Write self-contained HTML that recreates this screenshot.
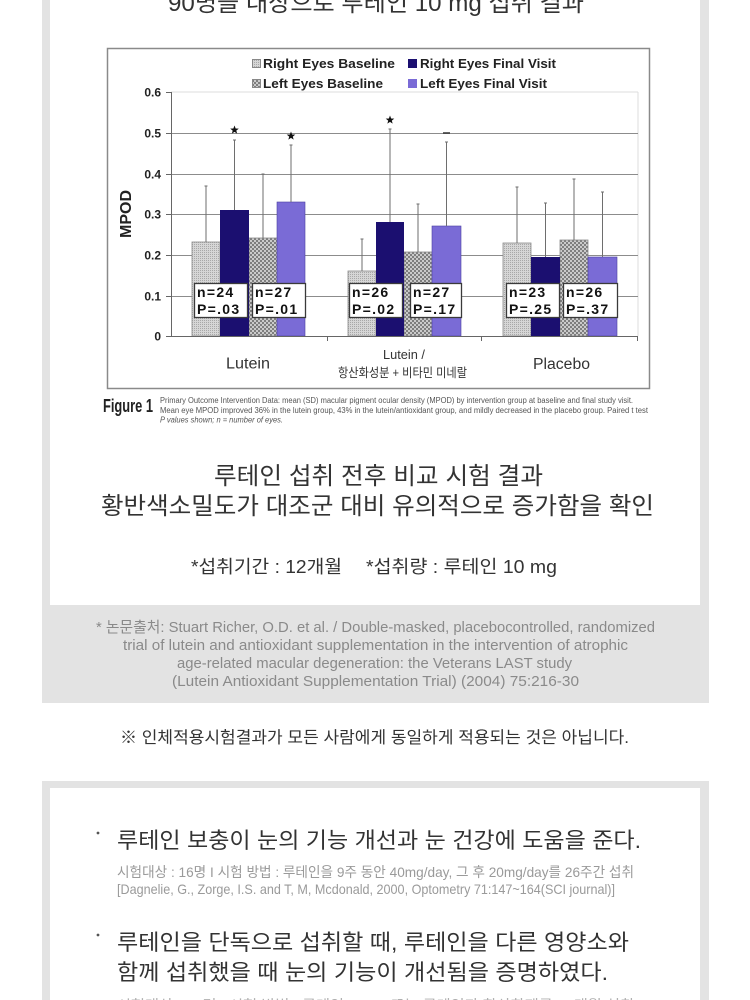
<!DOCTYPE html>
<html><head><meta charset="utf-8"><style>
html,body{margin:0;padding:0;background:#fff;}
svg{display:block;}
.k{font-family:"Liberation Sans","Noto Sans CJK KR",sans-serif;}
</style></head><body>
<svg width="750" height="1000" viewBox="0 0 750 1000" xmlns="http://www.w3.org/2000/svg" class="k">
<defs>
<pattern id="p1" width="2" height="2" patternUnits="userSpaceOnUse"><rect width="2" height="2" fill="#d6d6d6"/><rect width="1" height="1" fill="#a8a8a8"/></pattern>
<pattern id="p2" width="4" height="4" patternUnits="userSpaceOnUse"><rect width="4" height="4" fill="#cacaca"/><rect width="2" height="2" fill="#7e7e7e"/><rect x="2" y="2" width="2" height="2" fill="#7e7e7e"/></pattern>
<polygon id="star" points="0,-4.5 1.12,-1.54 4.28,-1.39 1.81,0.59 2.65,3.64 0,1.9 -2.65,3.64 -1.81,0.59 -4.28,-1.39 -1.12,-1.54" fill="#111"/>
</defs>

<!-- frames -->
<rect x="42" y="0" width="667" height="703" fill="#e3e3e3"/>
<rect x="50" y="0" width="650" height="605" fill="#ffffff"/>
<rect x="42" y="781" width="667" height="219" fill="#e3e3e3"/>
<rect x="50" y="788" width="650" height="212" fill="#ffffff"/>

<!-- top cut title -->
<text x="168" y="11" font-size="24" fill="#333" textLength="416" lengthAdjust="spacingAndGlyphs">90명을 대상으로 루테인 10 mg 섭취 결과</text>

<!-- chart box -->
<rect x="107.5" y="48.5" width="542" height="340" fill="#fff" stroke="#8a8a8a" stroke-width="1.5"/>

<!-- legend -->
<g font-weight="bold" font-size="13" fill="#222">
<rect x="252.5" y="59.5" width="8" height="8" fill="url(#p1)" stroke="#888" stroke-width="1"/>
<text x="263" y="68" textLength="132" lengthAdjust="spacingAndGlyphs">Right Eyes Baseline</text>
<rect x="252.5" y="79.5" width="8" height="8" fill="url(#p2)" stroke="#888" stroke-width="1"/>
<text x="263" y="88" textLength="120" lengthAdjust="spacingAndGlyphs">Left Eyes Baseline</text>
<rect x="408" y="59" width="9" height="9" fill="#1b0f70"/>
<text x="420" y="68" textLength="136" lengthAdjust="spacingAndGlyphs">Right Eyes Final Visit</text>
<rect x="408" y="79" width="9" height="9" fill="#7a6bd6"/>
<text x="420" y="88" textLength="127" lengthAdjust="spacingAndGlyphs">Left Eyes Final Visit</text>
</g>

<!-- plot area border -->
<line x1="171" y1="92" x2="638" y2="92" stroke="#dcdcdc" stroke-width="1"/>
<line x1="638" y1="92" x2="638" y2="336" stroke="#dcdcdc" stroke-width="1"/>
<!-- gridlines -->
<g stroke="#8c8c8c" stroke-width="1">
<line x1="171" y1="133.5" x2="638" y2="133.5"/>
<line x1="171" y1="174.5" x2="638" y2="174.5"/>
<line x1="171" y1="214.5" x2="638" y2="214.5"/>
<line x1="171" y1="255.5" x2="638" y2="255.5"/>
<line x1="171" y1="296.5" x2="638" y2="296.5"/>
</g>

<!-- bars -->
<g stroke="#8a8a8a" stroke-width="0.8">
<rect x="192" y="242" width="28" height="94" fill="url(#p1)"/>
<rect x="249" y="238" width="28" height="98" fill="url(#p2)"/>
<rect x="348" y="271" width="28" height="65" fill="url(#p1)"/>
<rect x="404" y="252" width="28" height="84" fill="url(#p2)"/>
<rect x="503" y="243" width="28" height="93" fill="url(#p1)"/>
<rect x="560" y="240" width="28" height="96" fill="url(#p2)"/>
</g>
<g fill="#1b0f70">
<rect x="220" y="210" width="29" height="126"/>
<rect x="376" y="222" width="28" height="114"/>
<rect x="531" y="257" width="29" height="79"/>
</g>
<g fill="#7a6bd6" stroke="#4a3fa0" stroke-width="0.6">
<rect x="277" y="202" width="28" height="134"/>
<rect x="432" y="226" width="29" height="110"/>
<rect x="588" y="257" width="29" height="79"/>
</g>

<!-- error bars -->
<g stroke="#6e6e6e" stroke-width="1">
<line x1="206" y1="242" x2="206" y2="186"/><line x1="204.5" y1="186" x2="207.5" y2="186"/>
<line x1="234.5" y1="210" x2="234.5" y2="140"/><line x1="233" y1="140" x2="236" y2="140"/>
<line x1="263" y1="238" x2="263" y2="174"/><line x1="261.5" y1="174" x2="264.5" y2="174"/>
<line x1="291" y1="202" x2="291" y2="145"/><line x1="289.5" y1="145" x2="292.5" y2="145"/>
<line x1="362" y1="271" x2="362" y2="239"/><line x1="360.5" y1="239" x2="363.5" y2="239"/>
<line x1="390" y1="222" x2="390" y2="129"/><line x1="388.5" y1="129" x2="391.5" y2="129"/>
<line x1="418" y1="252" x2="418" y2="204"/><line x1="416.5" y1="204" x2="419.5" y2="204"/>
<line x1="446.5" y1="226" x2="446.5" y2="142"/><line x1="445" y1="142" x2="448" y2="142"/>
<line x1="517" y1="243" x2="517" y2="187"/><line x1="515.5" y1="187" x2="518.5" y2="187"/>
<line x1="545.5" y1="257" x2="545.5" y2="203"/><line x1="544" y1="203" x2="547" y2="203"/>
<line x1="574" y1="240" x2="574" y2="179"/><line x1="572.5" y1="179" x2="575.5" y2="179"/>
<line x1="602.5" y1="257" x2="602.5" y2="192"/><line x1="601" y1="192" x2="604" y2="192"/>
</g>

<!-- stars -->
<use href="#star" x="234.5" y="130"/>
<use href="#star" x="291" y="136"/>
<use href="#star" x="390" y="120"/>
<line x1="443" y1="133" x2="450" y2="133" stroke="#333" stroke-width="1.5"/>

<!-- axes -->
<g stroke="#666" stroke-width="1">
<line x1="171.5" y1="92" x2="171.5" y2="336"/>
<line x1="171" y1="336.5" x2="638" y2="336.5"/>
<line x1="166" y1="92.5" x2="171" y2="92.5"/>
<line x1="166" y1="133.5" x2="171" y2="133.5"/>
<line x1="166" y1="174.5" x2="171" y2="174.5"/>
<line x1="166" y1="214.5" x2="171" y2="214.5"/>
<line x1="166" y1="255.5" x2="171" y2="255.5"/>
<line x1="166" y1="296.5" x2="171" y2="296.5"/>
<line x1="166" y1="336.5" x2="171" y2="336.5"/>
<line x1="327.5" y1="336" x2="327.5" y2="341"/>
<line x1="481.5" y1="336" x2="481.5" y2="341"/>
<line x1="637.5" y1="336" x2="637.5" y2="341"/>
</g>

<!-- y tick labels -->
<g font-weight="bold" font-size="12" fill="#222" text-anchor="end">
<text x="161" y="96.5">0.6</text>
<text x="161" y="137.5">0.5</text>
<text x="161" y="178.5">0.4</text>
<text x="161" y="218.5">0.3</text>
<text x="161" y="259.5">0.2</text>
<text x="161" y="300.5">0.1</text>
<text x="161" y="340.5">0</text>
</g>
<text transform="translate(131,214) rotate(-90)" text-anchor="middle" font-weight="bold" font-size="16" fill="#222">MPOD</text>

<!-- n/P boxes -->
<g fill="#fff" stroke="#3a3a3a" stroke-width="1.3">
<rect x="194.5" y="283.5" width="53" height="34"/>
<rect x="252.5" y="283.5" width="53" height="34"/>
<rect x="349.5" y="283.5" width="53" height="34"/>
<rect x="410.5" y="283.5" width="51" height="34"/>
<rect x="506.5" y="283.5" width="53" height="34"/>
<rect x="563.5" y="283.5" width="54" height="34"/>
</g>
<g font-weight="bold" font-size="14" fill="#111" letter-spacing="1.3">
<text x="197" y="297">n=24</text><text x="197" y="314">P=.03</text>
<text x="255" y="297">n=27</text><text x="255" y="314">P=.01</text>
<text x="352" y="297">n=26</text><text x="352" y="314">P=.02</text>
<text x="413" y="297">n=27</text><text x="413" y="314">P=.17</text>
<text x="509" y="297">n=23</text><text x="509" y="314">P=.25</text>
<text x="566" y="297">n=26</text><text x="566" y="314">P=.37</text>
</g>

<!-- category labels -->
<g fill="#333">
<text x="226" y="368.5" font-size="15.5" textLength="44" lengthAdjust="spacingAndGlyphs">Lutein</text>
<text x="383" y="359" font-size="13" textLength="42" lengthAdjust="spacingAndGlyphs">Lutein /</text>
<text x="338" y="377" font-size="12.5" textLength="129" lengthAdjust="spacingAndGlyphs">항산화성분 + 비타민 미네랄</text>
<text x="533" y="369" font-size="15.5" textLength="57" lengthAdjust="spacingAndGlyphs">Placebo</text>
</g>

<!-- figure caption -->
<text x="103" y="412" font-weight="bold" font-size="18" fill="#222" textLength="50" lengthAdjust="spacingAndGlyphs">Figure 1</text>
<g font-size="8" fill="#555">
<text x="160" y="403" textLength="473" lengthAdjust="spacingAndGlyphs">Primary Outcome Intervention Data: mean (SD) macular pigment ocular density (MPOD) by intervention group at baseline and final study visit.</text>
<text x="160" y="413" textLength="488" lengthAdjust="spacingAndGlyphs">Mean eye MPOD improved 36% in the lutein group, 43% in the lutein/antioxidant group, and mildly decreased in the placebo group. Paired t test</text>
<text x="160" y="422.5" textLength="123" lengthAdjust="spacingAndGlyphs" font-style="italic">P values shown; n = number of eyes.</text>
</g>

<!-- main result text -->
<g fill="#333">
<text x="214" y="484" font-size="24" textLength="329" lengthAdjust="spacingAndGlyphs">루테인 섭취 전후 비교 시험 결과</text>
<text x="101" y="514" font-size="24" textLength="553" lengthAdjust="spacingAndGlyphs">황반색소밀도가 대조군 대비 유의적으로 증가함을 확인</text>
<text x="191" y="573" font-size="18" textLength="151" lengthAdjust="spacingAndGlyphs">*섭취기간 : 12개월</text>
<text x="366" y="573" font-size="18" textLength="191" lengthAdjust="spacingAndGlyphs">*섭취량 : 루테인 10 mg</text>
</g>

<!-- citation -->
<g fill="#8a8a8a" font-size="15">
<text x="96" y="632" textLength="559" lengthAdjust="spacingAndGlyphs">* 논문출처:  Stuart Richer, O.D. et al. / Double-masked, placebocontrolled, randomized</text>
<text x="123" y="650" textLength="505" lengthAdjust="spacingAndGlyphs">trial of lutein and antioxidant supplementation in the intervention of atrophic</text>
<text x="177" y="668" textLength="395" lengthAdjust="spacingAndGlyphs">age-related macular degeneration: the Veterans LAST study</text>
<text x="172" y="686" textLength="407" lengthAdjust="spacingAndGlyphs">(Lutein Antioxidant Supplementation Trial)  (2004) 75:216-30</text>
</g>

<!-- note -->
<text x="120" y="743" font-size="16.5" fill="#333" textLength="509" lengthAdjust="spacingAndGlyphs">※ 인체적용시험결과가 모든 사람에게 동일하게 적용되는 것은 아닙니다.</text>

<!-- bullets -->
<circle cx="98" cy="833" r="1.4" fill="#555"/>
<text x="117" y="848" font-size="22" fill="#333" textLength="524" lengthAdjust="spacingAndGlyphs">루테인 보충이 눈의 기능 개선과 눈 건강에 도움을 준다.</text>
<g fill="#9a9a9a" font-size="14">
<text x="117" y="877" textLength="517" lengthAdjust="spacingAndGlyphs">시험대상 : 16명 I 시험 방법 : 루테인을 9주 동안 40mg/day, 그 후 20mg/day를 26주간 섭취</text>
<text x="117" y="894" textLength="498" lengthAdjust="spacingAndGlyphs">[Dagnelie, G., Zorge, I.S. and T, M, Mcdonald, 2000, Optometry 71:147~164(SCI journal)]</text>
</g>
<circle cx="98" cy="935" r="1.4" fill="#555"/>
<text x="117" y="950" font-size="22" fill="#333" textLength="512" lengthAdjust="spacingAndGlyphs">루테인을 단독으로 섭취할 때, 루테인을 다른 영양소와</text>
<text x="117" y="980" font-size="22" fill="#333" textLength="491" lengthAdjust="spacingAndGlyphs">함께 섭취했을 때 눈의 기능이 개선됨을 증명하였다.</text>
<text x="117" y="1010" font-size="14" fill="#b0b0b0" textLength="517" lengthAdjust="spacingAndGlyphs">시험대상 : 90명 I 시험 방법 : 루테인 10mg 또는 루테인과 항산화제를 12개월 섭취</text>
</svg>
</body></html>
